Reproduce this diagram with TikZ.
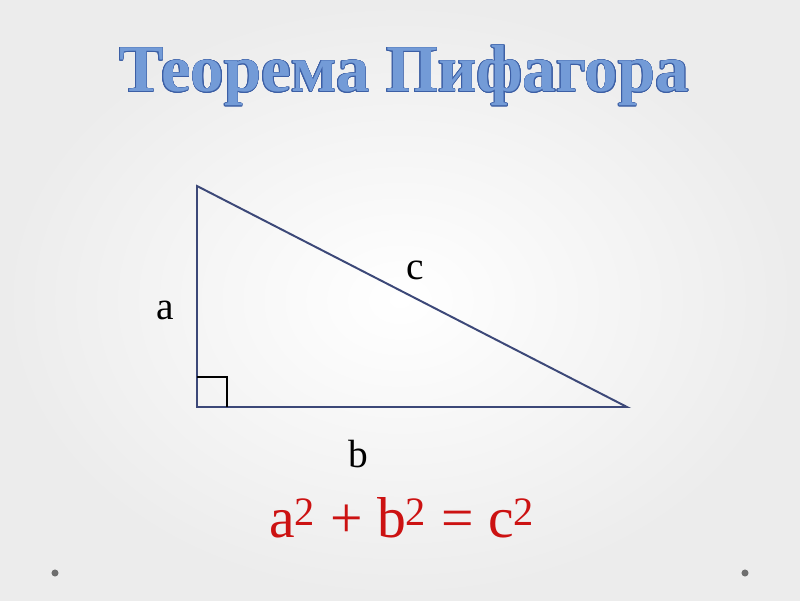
\documentclass[tikz,border=0pt]{standalone}
\usepackage{fontspec}
\setmainfont{Liberation Serif}
\usepackage[copies]{contour}
\usetikzlibrary{shadings,calc}

\definecolor{titleblue}{RGB}{115,155,215}
\definecolor{titleedge}{RGB}{60,95,165}
\definecolor{sidecol}{RGB}{60,72,120}
\definecolor{formred}{RGB}{204,18,18}
\definecolor{dotgray}{RGB}{110,110,110}

\tikzset{
  sidelabel/.style={font=\fontsize{28}{30}\selectfont, inner sep=0pt},
  sideline/.style={draw=sidecol, line width=1.4pt, line join=miter},
  cornerdot/.style={circle, fill=dotgray, inner sep=0pt, minimum size=5pt}
}
\contourlength{0.5pt}

\begin{document}
\begin{tikzpicture}

\shade[inner color=white, outer color=gray!15] (0,0) rectangle (20,15);
\useasboundingbox (0,0) rectangle (20,15);

\node (title) at (10.1,13.1) {\fontsize{47.5}{50}\bfseries\selectfont
  \contour{titleedge}{\textcolor{titleblue}{Теорема Пифагора}}};

\coordinate (A) at (4.925,10.35);
\coordinate (C) at (4.925,4.825);
\coordinate (B) at (15.675,4.825);

\draw[sideline] (A) -- (C) -- (B) -- cycle;
\draw[black, line width=0.9pt] ($(C)+(0,0.75)$) -- ++(0.75,0) -- ++(0,-0.75);

\node[sidelabel] (a) at (4.12,7.25) {a};
\node[sidelabel] (c) at (10.38,8.25) {c};
\node[sidelabel] (b) at (8.95,3.65) {b};

\node (formula) at (10.05,2.05) {\fontsize{41}{44}\selectfont\color{formred}%
  a\textsuperscript{2} + b\textsuperscript{2} = c\textsuperscript{2}};

\node[cornerdot] (dotleft) at (1.375,0.675) {};
\node[cornerdot] (dotright) at (18.625,0.675) {};

\end{tikzpicture}
\end{document}
